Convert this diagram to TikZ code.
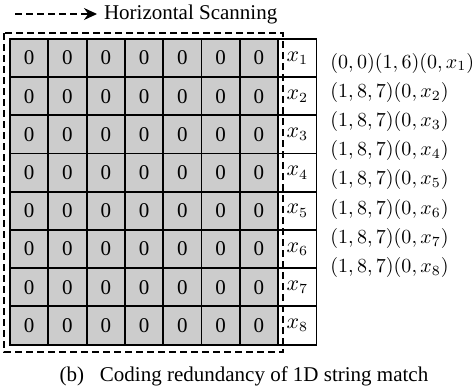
\documentclass[tikz,border=0pt]{standalone}
\usepackage{fontspec}
\setmainfont{Liberation Serif}
\usetikzlibrary{arrows.meta}
\tikzset{
    cell/.style = {draw, line width=0.9pt, fill=gray!40,
        minimum size=19.15pt, inner sep=0pt, font=\fontsize{10.5}{12}\selectfont},
    xcell/.style = {cell, fill=white},
    code/.style = {anchor=west, inner sep=0pt},
    frame/.style = {line width=0.6pt, dash pattern=on 3.5pt off 2pt},
    scanline/.style = {frame, -{Stealth[length=6.5pt,width=6pt]}}
}

\begin{document}
\begin{tikzpicture}[x=0.5pt,y=-0.5pt]
    \useasboundingbox (0,0) rectangle (476,391);
    % grid of zeros and the x column
    \foreach \r in {1,...,8} {
        \foreach \c in {1,...,7}
            \node [cell] (c\r-\c) at ({10+38.3*(\c-0.5)},{39+38.2*(\r-0.5)}) {0};
        \node [xcell] (x\r) at ({10+38.3*7.5},{39+38.2*(\r-0.5)}) {$x_{\r}$};
    }
    % scanning region
    \draw [frame] (4,33) rectangle (283,352);
    \coordinate (scan0) at (15,14);
    \node [anchor=west, font=\fontsize{10.5}{12}\selectfont] (scan) at (97,14) {Horizontal Scanning};
    \draw [scanline] (scan0) -- (scan.west);
    % codes
    \node [code] (code1) at (330,63) {$(0,0)(1,6)(0,x_1)$};
    \foreach \r in {2,...,8}
        \node [code] (code\r) at (330,{63+29.2*(\r-1)}) {$(1,8,7)(0,x_{\r})$};
    % caption
    \node [font=\fontsize{10.5}{12}\selectfont] (cap) at (244,376) {(b)\enspace\ Coding redundancy of 1D string match};
\end{tikzpicture}
\end{document}
